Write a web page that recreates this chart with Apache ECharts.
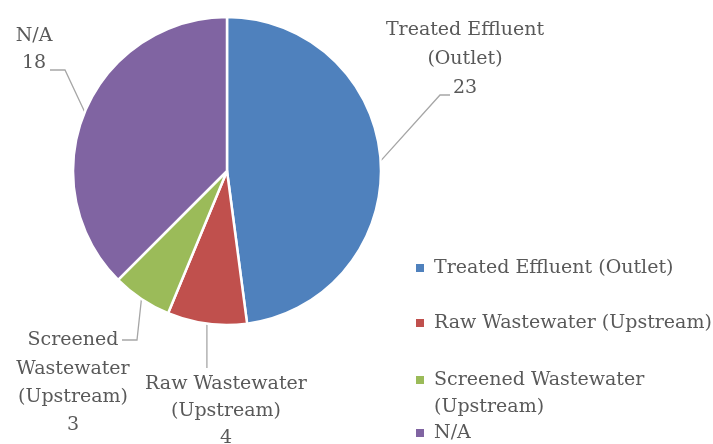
<!DOCTYPE html>
<html>
<head>
<meta charset="utf-8">
<script src="https://cdn.jsdelivr.net/npm/echarts@6/dist/echarts.min.js"></script>
<style>
  html, body { margin: 0; padding: 0; background: #fff; }
  #chart { width: 713px; height: 444px; }
</style>
</head>
<body>
<div id="chart"></div>
<script>
// data
const categories = ['Treated Effluent (Outlet)', 'Raw Wastewater (Upstream)', 'Screened Wastewater (Upstream)', 'N/A']
const counts = [23, 4, 3, 18]
const labelNames = ['Treated Effluent\n(Outlet)', 'Raw Wastewater\n(Upstream)', 'Screened\nWastewater\n(Upstream)', 'N/A']
// leading blank line keeps the icon level with the first text line
const legendNames = ['Treated Effluent (Outlet)', 'Raw Wastewater (Upstream)', ' \nScreened Wastewater\n(Upstream)', 'N/A']
const colors = ['#4F81BD', '#C0504D', '#9BBB59', '#8064A2']

const font = 'DejaVu Serif'
const textColor = '#595959'

// where each outside label sits, plus the bend / end of its leader line
const labelPos = [
  { x: 465, y: 59.5, lh: 29, bend: [440, 95], end: [450, 95] },
  { x: 226, y: 411, lh: 27, bend: null, end: [null, 368] },
  { x: 73, y: 383, lh: 28.3, bend: [137, 340], end: [122, 340] },
  { x: 34, y: 50, lh: 27, bend: [65, 70], end: [50, 70] }
]
const legendTops = [249.5, 304.5, 334.5, 414.5]

const chart = echarts.init(document.getElementById('chart'))

const legends = categories.map((name, i) => ({
  orient: 'vertical',
  left: 409,
  top: legendTops[i],
  itemWidth: 10,
  itemHeight: 10,
  icon: 'rect',
  selectedMode: false,
  data: [name],
  formatter: () => legendNames[i],
  textStyle: {
    fontFamily: font,
    fontSize: 19,
    color: textColor,
    lineHeight: 27,
    padding: [0, 0, 0, 4]
  }
}))

chart.setOption({
  animation: false,
  legend: legends,
  series: [{
    type: 'pie',
    center: [227, 171],
    radius: 154,
    startAngle: 90,
    clockwise: true,
    avoidLabelOverlap: false,
    itemStyle: { borderColor: '#fff', borderWidth: 2.5 },
    label: {
      show: true,
      position: 'outside',
      fontFamily: font,
      fontSize: 19,
      color: textColor,
      formatter: p => labelNames[p.dataIndex] + '\n' + p.value
    },
    labelLine: {
      show: true,
      length: 20,
      length2: 10,
      lineStyle: { color: '#a6a6a6', width: 1.3 }
    },
    labelLayout: params => {
      const pos = labelPos[params.dataIndex]
      const p0 = params.labelLinePoints[0]
      let pts
      if (pos.bend) {
        pts = [p0, pos.bend, pos.end]
      } else {
        pts = [p0, [p0[0], pos.end[1]], [p0[0], pos.end[1]]]
      }
      return {
        x: pos.x,
        y: pos.y,
        align: 'center',
        verticalAlign: 'middle',
        lineHeight: pos.lh,
        labelLinePoints: pts
      }
    },
    data: categories.map((name, i) => ({
      name: name,
      value: counts[i],
      itemStyle: { color: colors[i] },
      label: { lineHeight: labelPos[i].lh }
    }))
  }]
})
</script>
</body>
</html>
